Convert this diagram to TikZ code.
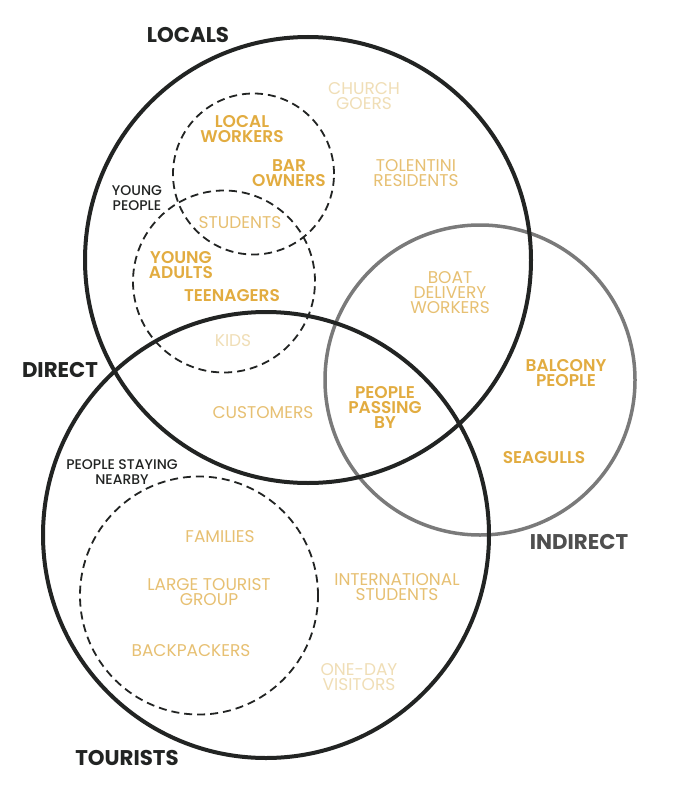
\documentclass[tikz,border=0pt]{standalone}
\usepackage{fontspec}
\setmainfont{Poppins}
\newfontfamily\popmed{Poppins Medium}
\newfontfamily\popsemi{Poppins SemiBold}
\newfontfamily\popbold{Poppins Bold}
\definecolor{ink}{HTML}{222423}
\definecolor{greyring}{HTML}{7A7A7A}
\definecolor{greytxt}{HTML}{4F4F4F}
\definecolor{gold}{HTML}{E2AC40}
\definecolor{goldlt}{HTML}{E7C072}
\definecolor{goldpale}{HTML}{F0DEB6}

\begin{document}
\begin{tikzpicture}[x=1pt, y=-1pt, every node/.style={inner sep=0pt, align=center},
	ring/.style={draw=ink, line width=4pt},
	side/.style={draw=greyring, line width=3.5pt},
	sub/.style={draw=ink, line width=1.8pt, dash pattern=on 8pt off 5pt},
	head/.style={font=\popbold\fontsize{21.3}{21}\selectfont, text=ink},
	note/.style={font=\popmed\fontsize{14}{15}\selectfont, text=ink},
	strong/.style={font=\popsemi\fontsize{17}{15}\selectfont, text=gold},
	soft/.style={font=\fontsize{17}{15}\selectfont, text=goldlt},
	faint/.style={soft, text=goldpale}]
	\useasboundingbox[fill=white] (0,0) rectangle (693,789);
	% circles
	\draw[side] (480,380) circle[radius=155pt];
	\foreach \x/\y in {308/260, 266/535}
		\draw[ring] (\x,\y) circle[radius=223pt];
	\foreach \x/\y/\r in {253.5/174/80.5, 224/281.5/91, 199/595.5/119}
		\draw[sub] (\x,\y) circle[radius=\r pt];
	% group names
	\node[head] (locals) at (188,35) {LOCALS};
	\node[head] (direct) at (60,370) {DIRECT};
	\node[head] (tourists) at (127,758) {TOURISTS};
	\node[head, text=greytxt] (indirect) at (579,542) {INDIRECT};
	\node[note] (young) at (137,198) {YOUNG\\PEOPLE};
	\node[note] (nearby) at (122,472) {PEOPLE STAYING\\NEARBY};
	% people
	\node[strong] (workers) at (242,129) {LOCAL\\WORKERS};
	\node[strong] (bar) at (289,173) {BAR\\OWNERS};
	\node[soft] (students) at (240,223) {STUDENTS};
	\node[strong] (adults) at (181,265) {YOUNG\\ADULTS};
	\node[strong] (teens) at (232,296) {TEENAGERS};
	\node[faint] (kids) at (233,341) {KIDS};
	\node[faint] (church) at (364,96) {CHURCH\\GOERS};
	\node[soft] (residents) at (416,173) {TOLENTINI\\RESIDENTS};
	\node[soft] (boat) at (450,293) {BOAT\\DELIVERY\\WORKERS};
	\node[strong] (balcony) at (566,373) {BALCONY\\PEOPLE};
	\node[strong] (passing) at (385,407) {PEOPLE\\PASSING\\BY};
	\node[strong] (gulls) at (544,458) {SEAGULLS};
	\node[soft] (customers) at (263,413) {CUSTOMERS};
	\node[soft] (families) at (220,537) {FAMILIES};
	\node[soft] (group) at (209,592) {LARGE TOURIST\\GROUP};
	\node[soft] (packers) at (191,651) {BACKPACKERS};
	\node[soft] (intl) at (397,587) {INTERNATIONAL\\STUDENTS};
	\node[faint] (oneday) at (359,677) {ONE-DAY\\VISITORS};
\end{tikzpicture}
\end{document}
